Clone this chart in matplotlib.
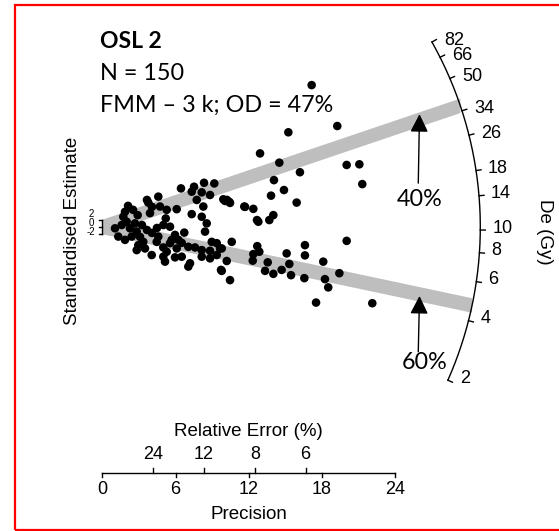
import numpy as np
import matplotlib
matplotlib.use('Agg')
import matplotlib.pyplot as plt
from matplotlib.patches import Rectangle, Polygon

# ==== data ====
precision = [
    17.16, 19.26, 15.25, 12.93, 14.51, 16.20, 20.03, 21.07, 14.07, 21.31,
    14.89, 13.83, 10.06, 10.41, 15.93, 11.64, 12.38, 14.02, 13.69, 12.79,
    20.03, 10.61, 12.70, 12.87, 12.38, 16.61, 15.11, 16.61, 9.79, 10.20,
    12.33, 13.56, 15.33, 18.11, 13.34, 14.02, 14.70, 15.47, 16.56, 19.43,
    18.25, 18.52, 9.79, 10.47, 17.52, 22.13,
    6.45, 7.52, 8.34, 9.18, 7.33, 8.15, 8.83, 7.74, 8.28, 9.92,
    3.77, 4.59, 4.73, 5.28, 6.10, 7.33, 1.86, 1.72, 2.00, 2.90,
    3.91, 5.20, 1.04, 1.59, 2.27, 2.68, 2.82, 2.41, 1.31, 1.86,
    3.36, 2.95, 2.82, 3.50, 5.00, 5.55, 5.96, 5.69, 6.72, 4.59,
    4.46, 5.00, 5.28, 6.10, 5.55, 6.51, 4.05, 5.00, 5.96, 5.14,
    7.05, 7.60, 8.15, 7.05, 7.19, 8.15, 8.97, 9.38, 8.83, 9.38,
    8.83, 9.65, 9.73, 6.51, 6.23,
    3.66, 4.07, 10.22, 10.47, 11.70, 12.68,
    2.11, 2.52, 3.25, 3.66, 4.07, 4.48, 3.09, 8.15, 8.56, 8.42,
]
std_estimate = [
    43.0, 30.6, 28.7, 22.3, 19.5, 16.6, 18.8, 19.0, 14.2, 13.0,
    11.2, 9.5, 7.9, 7.6, 7.4, 6.2, 5.5, 3.6, 2.1, 1.6,
    -4.2, -4.5, -5.8, -7.5, -8.2, -5.5, -8.0, -8.6, -6.5, -10.3,
    -10.2, -10.7, -11.2, -10.5, -13.3, -14.2, -13.0, -14.6, -15.5, -14.0,
    -15.8, -18.3, -13.3, -16.1, -22.9, -23.1,
    11.7, 12.2, 13.4, 13.2, 10.7, 10.5, 9.7, 8.2, 6.2, 8.4,
    7.4, 9.2, 6.2, 5.2, 5.4, 3.9, 4.6, 3.1, 1.6, 3.6,
    4.2, 2.6, -0.4, 0.6, -0.4, 1.1, -1.4, -2.9, -2.9, -3.9,
    -4.5, -5.5, -7.0, -6.5, 0.6, 0.1, -2.4, -3.9, -1.7, -2.9,
    -4.5, -6.2, -7.5, -6.5, -4.9, -4.8, -8.5, -9.0, -9.2, -10.5,
    -6.0, -6.2, -7.0, -12.0, -11.0, -9.0, -4.5, -4.9, -7.2, -8.5,
    -9.5, -6.5, -13.0, -9.0, -3.9,
    8.2, 6.1, 8.2, 7.3, 6.1, 2.1,
    6.4, 5.2, 0.6, -0.9, -1.8, -0.3, -3.0, 3.1, 1.1, -1.4,
]
central_de = 10.3
component_de = [36.0, 4.7]
component_labels = ['40%', '60%']
de_ticks = [2, 4, 6, 8, 10, 14, 18, 26, 34, 50, 66, 82]
precision_ticks = [0, 6, 12, 18, 24]
rel_error_ticks = [24, 12, 8, 6]
title_lines = ['OSL 2', 'N = 150', 'FMM \u2013 3 k; OD = 47%']

# ==== geometry ====
W, H, DPI = 559, 531, 100
sx, sy = 12.2, 3.3          # pixels per precision unit / per standard unit
ox, oy = 102.3, 227.0       # origin position in pixels (from top-left)
R = 378.0                   # arc radius in pixels
z0 = np.log(central_de)

fig = plt.figure(figsize=(W / DPI, H / DPI), dpi=DPI)
ax = fig.add_axes([0, 0, 1, 1])
ax.set_axis_off()
ax.set_xlim(-ox / sx, (W - ox) / sx)
ax.set_ylim(-(H - oy) / sy, oy / sy)

arial = 'Liberation Sans'
calibri = 'Lato'


def arc_point(de, r):
    th = np.arctan((np.log(de) - z0) * sy / sx)
    return r * np.cos(th) / sx, r * np.sin(th) / sy


# grey component bands
hw = 2.2
for de in component_de:
    m = np.log(de) - z0
    xe, ye = arc_point(de, R)
    poly = Polygon([(0, -hw), (0, hw), (xe, m * xe + hw), (xe, m * xe - hw)],
                   closed=True, facecolor='#bebebe', edgecolor='none', zorder=1)
    ax.add_patch(poly)

# points
ax.scatter(precision, std_estimate, s=38, color='black', edgecolors='none', zorder=3)

# arc (De axis)
th_lo = np.arctan((np.log(de_ticks[0]) - z0) * sy / sx)
th_hi = np.arctan((np.log(de_ticks[-1]) - z0) * sy / sx)
th = np.linspace(th_lo, th_hi, 300)
ax.plot(R * np.cos(th) / sx, R * np.sin(th) / sy, color='black', lw=1.0, zorder=2)
for de in de_ticks:
    x0, y0 = arc_point(de, R)
    x1, y1 = arc_point(de, R + 5)
    ax.plot([x0, x1], [y0, y1], color='black', lw=1.0)
    ax.annotate(str(de), (x0, y0), xytext=(12, 2), textcoords='offset pixels',
                ha='left', va='center', fontsize=13, family=arial)
ax.annotate('De (Gy)', (R / sx, 0), xytext=(64, -5), textcoords='offset pixels',
            ha='center', va='center', rotation=-90, fontsize=13.5, family=arial)

# x axis: precision + relative error
y_ax = (oy - 472.7) / sy
ax.plot([precision_ticks[0], precision_ticks[-1]], [y_ax, y_ax], color='black', lw=1.0)
for p in precision_ticks:
    ax.plot([p, p], [y_ax, y_ax - 4.5 / sy], color='black', lw=1.0)
    ax.annotate(str(p), (p, y_ax), xytext=(0, -17), textcoords='offset pixels',
                ha='center', va='center', fontsize=13, family=arial)
for re in rel_error_ticks:
    p = 100.0 / re
    ax.plot([p, p], [y_ax, y_ax + 4.5 / sy], color='black', lw=1.0)
    ax.annotate(str(re), (p, y_ax), xytext=(0, 18), textcoords='offset pixels',
                ha='center', va='center', fontsize=13, family=arial)
ax.annotate('Relative Error (%)', (12, y_ax), xytext=(0, 41), textcoords='offset pixels',
            ha='center', va='center', fontsize=13.5, family=arial)
ax.annotate('Precision', (12, y_ax), xytext=(0, -42), textcoords='offset pixels',
            ha='center', va='center', fontsize=13.5, family=arial)

# y axis: standardised estimate (labels spread a little so they stay legible)
ax.plot([0, 0], [-2, 2], color='black', lw=1.0)
for t in [-2, 0, 2]:
    ax.plot([0, -3 / sx], [t, t], color='black', lw=1.0)
    ax.annotate(str(t), (0, t), xytext=(-11, 4 + 1.2 * t), textcoords='offset pixels',
                ha='center', va='center', fontsize=7, family=arial)
ax.annotate('Standardised Estimate', (0, 0), xytext=(-30, -4), textcoords='offset pixels',
            ha='center', va='center', rotation=90, fontsize=13.5, family=arial)

# component annotations
arrow_tips = [(26.0, 34.2), (26.0, -20.9)]
arrow_tails = [(25.9, 13.3), (25.9, -37.8)]
label_pos = [(26.0, 8.3), (26.45, -41.2)]
for tip, tail, lp, lab in zip(arrow_tips, arrow_tails, label_pos, component_labels):
    ax.annotate('', xy=tip, xytext=tail,
                arrowprops=dict(arrowstyle='-|>,head_length=1.1,head_width=0.55',
                                mutation_scale=10, lw=1.0, color='black',
                                shrinkA=0, shrinkB=0), zorder=4)
    ax.text(lp[0], lp[1], lab, ha='center', va='center', fontsize=16.8, family=calibri)

# title block
fig.text(100 / W, 1 - 42 / H, title_lines[0], ha='left', va='center',
         fontsize=16.5, fontweight='bold', family=calibri)
for i, line in enumerate(title_lines[1:]):
    fig.text(100 / W, 1 - (73.5 + 31.5 * i) / H, line, ha='left', va='center',
             fontsize=16.8, family=calibri)

# red frame
fig.patches.append(Rectangle((15.0 / W, 1 / H), 2.0, (H - 5.5) / H, transform=fig.transFigure,
                             fill=False, edgecolor='red', lw=1.6, zorder=10))

fig.savefig('out.png', dpi=DPI)
